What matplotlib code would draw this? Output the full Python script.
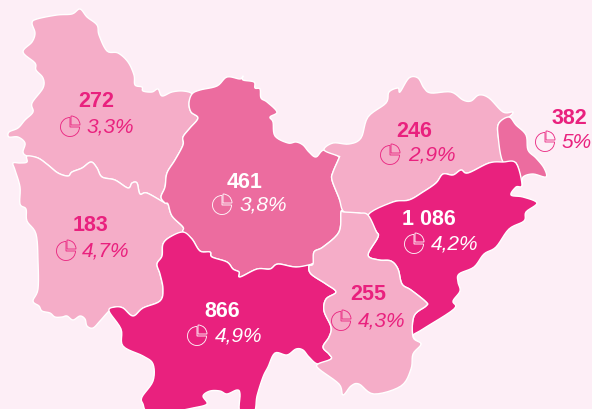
import matplotlib
matplotlib.use('Agg')
import matplotlib.pyplot as plt
import numpy as np
from matplotlib.patches import Polygon, Wedge

# values per region
counts = ['272', '183', '461', '246', '382', '1 086', '866', '255']
shares = ['3,3%', '4,7%', '3,8%', '2,9%', '5%', '4,2%', '4,9%', '4,3%']

# outlines, in pixels
shape_272 = [(80,9),(87,17),(97,25),(99,35),(107,51),(118,53),(128,62),(134,75),(135,85),(142,87),(143,91),(152,92),(158,89),(162,96),(172,92),(183,91),(192,94),(189,103),(191,112),(198,118),(190,128),(183,137),(183,145),(175,160),(167,173),(165,187),(161,197),(165,203),(147,193),(140,194),(137,183),(132,183),(128,188),(115,180),(102,177),(97,168),(91,162),(82,168),(72,172),(68,176),(58,173),(48,165),(38,158),(27,156),(23,152),(25,143),(18,137),(9,137),(9,132),(18,128),(25,120),(33,112),(32,103),(43,88),(43,78),(36,70),(35,63),(23,52),(32,42),(35,33),(32,23),(37,19),(57,15),(72,14)]
shape_183 = [(27,156),(38,158),(48,165),(58,173),(68,176),(72,172),(82,168),(91,162),(97,168),(102,177),(115,180),(128,188),(132,183),(137,183),(140,194),(147,193),(165,203),(168,204),(172,216),(183,227),(183,232),(170,237),(163,244),(162,256),(157,264),(160,274),(163,289),(160,301),(143,308),(133,316),(123,308),(115,307),(109,311),(100,321),(93,328),(87,326),(85,319),(80,316),(73,320),(67,316),(62,317),(55,317),(50,313),(42,311),(39,306),(33,301),(38,289),(38,261),(36,234),(27,221),(26,209),(20,204),(20,187),(15,170),(13,163),(20,163),(27,162)]
shape_461 = [(243,76),(240,79),(227,77),(217,86),(200,90),(192,94),(189,103),(191,112),(198,118),(190,128),(183,137),(183,145),(175,160),(167,173),(165,187),(161,197),(165,203),(168,204),(172,216),(183,227),(183,232),(192,239),(200,251),(210,252),(212,257),(227,262),(233,269),(239,272),(240,277),(257,269),(270,269),(278,264),(296,267),(313,264),(314,252),(323,247),(339,232),(341,212),(344,212),(339,198),(332,180),(333,172),(339,158),(338,156),(324,150),(316,157),(309,152),(303,145),(296,142),(288,143),(275,136),(273,122),(270,117),(277,112),(267,102),(261,98),(260,89),(255,88),(254,82),(243,80)]
shape_246 = [(324,150),(333,143),(349,144),(361,138),(368,117),(386,103),(389,92),(398,88),(400,92),(409,78),(418,78),(424,88),(431,93),(451,92),(463,100),(471,101),(479,95),(489,98),(503,112),(513,112),(509,117),(499,123),(498,135),(503,162),(489,163),(468,173),(461,170),(453,175),(443,174),(436,183),(423,192),(409,200),(393,202),(368,215),(359,213),(344,212),(339,198),(332,180),(333,172),(339,158),(338,156)]
shape_382 = [(509,117),(516,125),(526,135),(528,150),(536,158),(544,168),(546,177),(533,174),(523,177),(522,185),(516,163),(503,162),(498,135),(499,123)]
shape_1086 = [(368,215),(393,202),(409,200),(423,192),(436,183),(443,174),(453,175),(461,170),(468,173),(489,163),(503,162),(516,163),(522,185),(516,187),(511,195),(523,197),(537,203),(526,212),(524,221),(509,229),(496,247),(484,254),(474,267),(459,274),(458,282),(460,291),(453,301),(454,309),(423,329),(413,336),(421,344),(413,337),(414,316),(426,306),(426,302),(411,290),(402,284),(398,269),(391,261),(379,260),(368,255),(378,237),(376,231)]
shape_866 = [(109,311),(115,307),(123,308),(133,316),(143,308),(160,301),(163,289),(160,274),(157,264),(162,256),(163,244),(170,237),(183,232),(192,239),(200,251),(210,252),(212,257),(227,262),(233,269),(239,272),(240,277),(257,269),(270,269),(278,264),(296,267),(313,264),(309,266),(311,274),(326,284),(336,292),(326,299),(324,311),(331,327),(329,337),(323,347),(329,354),(331,359),(318,364),(309,357),(303,350),(296,349),(287,355),(275,353),(268,367),(263,377),(257,396),(254,412),(240,412),(240,394),(237,390),(227,394),(220,391),(210,391),(203,396),(207,404),(193,408),(170,412),(148,412),(143,404),(142,397),(153,381),(153,364),(143,356),(123,346),(121,329)]
shape_255 = [(341,212),(344,212),(359,213),(368,215),(376,231),(378,237),(368,255),(379,260),(391,261),(398,269),(402,284),(411,290),(426,302),(426,306),(414,316),(413,337),(421,344),(413,354),(411,369),(401,386),(374,394),(359,384),(351,386),(343,395),(339,384),(319,369),(318,364),(331,359),(329,354),(323,347),(329,337),(331,327),(324,311),(326,299),(336,292),(326,284),(311,274),(309,266),(313,264),(314,252),(323,247),(339,232)]

shapes = [shape_272, shape_183, shape_461, shape_246, shape_382, shape_1086, shape_866, shape_255]

bg = '#FDEEF6'
light = '#F5ADC8'
mid = '#EC6C9F'
dark = '#E9217E'
fills = [light, light, mid, light, mid, dark, dark, light]

# label places
value_xy = [(96,101.5),(91,225.5),(245,182.5),(414,131.5),(569,118.5),(429,219.5),(222,311.5),(368,294.5)]
icon_xy = [(70,127),(66,251),(222,205),(390,155),(545,142),(414,244),(197,336),(341,321)]
pct_x = [87,82,240,408,562,431,215,358]
colors = [dark, dark, 'white', dark, dark, 'white', 'white', dark]


def smooth(pts, n=6):
    # closed catmull-rom through the outline points
    p = np.array(pts, dtype=float)
    p0 = np.roll(p, 1, axis=0)
    p2 = np.roll(p, -1, axis=0)
    p3 = np.roll(p, -2, axis=0)
    out = []
    for i in range(len(p)):
        for t in np.arange(n) / n:
            out.append(0.5 * (2*p[i] + (p2[i]-p0[i])*t + (2*p0[i]-5*p[i]+4*p2[i]-p3[i])*t**2
                              + (3*p[i]-p0[i]-3*p2[i]+p3[i])*t**3))
    return np.array(out)


fig = plt.figure(figsize=(5.92, 4.09), dpi=100, facecolor=bg)
ax = fig.add_axes([0, 0, 1, 1])
ax.set_xlim(0, 592)
ax.set_ylim(409, 0)
ax.axis('off')

for s, f in zip(shapes, fills):
    ax.add_patch(Polygon(smooth(s), closed=True, facecolor=f, edgecolor='white', lw=1.0, joinstyle='round'))

for i in range(len(counts)):
    c = colors[i]
    ax.text(value_xy[i][0], value_xy[i][1], counts[i], color=c, ha='center', va='center',
            fontsize=15.5, fontweight='bold', family='Liberation Sans')
    x, y = icon_xy[i]
    ax.text(pct_x[i], y, shares[i], color=c, ha='left', va='center',
            fontsize=15, fontstyle='italic', family='Liberation Sans')
    # small pie icon
    ax.add_patch(Wedge((x, y), 9.5, 0, 270, fill=False, edgecolor=c, lw=0.6))
    ax.add_patch(Wedge((x+1, y-2), 9, 270, 360, fill=False, edgecolor=c, lw=0.6))

fig.savefig('out.png', dpi=100, facecolor=bg)
